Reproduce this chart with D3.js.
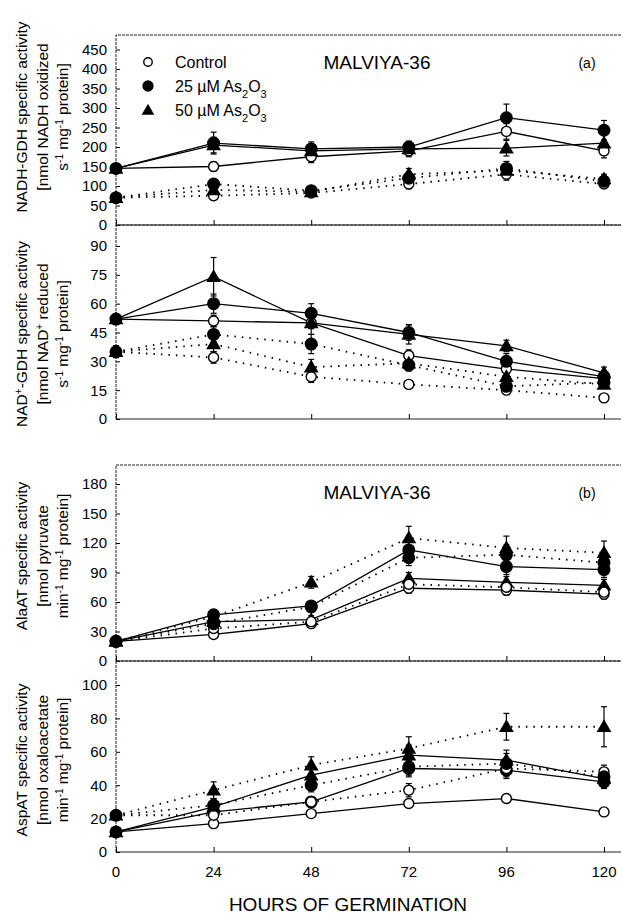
<!DOCTYPE html>
<html>
<head>
<meta charset="utf-8">
<script src="https://cdn.jsdelivr.net/npm/d3@7"></script>
<style>
  body { margin: 0; background: #fff; }
  svg { font-family: "Liberation Sans", Arial, sans-serif; }
</style>
</head>
<body>
<svg id="chart" width="623" height="914"></svg>
<script>
// hours of germination
const hours = [0, 24, 48, 72, 96, 120];

// NADH-GDH (panel a, top)
const nadhCtrlSolid = [145, 150, 175, 190, 240, 190];
const nadhAs25Solid = [145, 210, 195, 200, 275, 243];
const nadhAs50Solid = [145, 205, 190, 195, 197, 210];
const nadhCtrlDot = [70, 75, 82, 105, 130, 105];
const nadhAs25Dot = [70, 105, 88, 120, 145, 112];
const nadhAs50Dot = [70, 90, 85, 130, 140, 118];
const nadhErrSolid = [[10, 12, 15, 15, 20, 18], [10, 28, 18, 15, 35, 25], [10, 20, 15, 12, 20, 20]];
const nadhErrDot = [[8, 10, 8, 12, 15, 10], [8, 12, 10, 15, 18, 12], [8, 10, 8, 15, 15, 12]];

// NAD+-GDH (panel a, bottom)
const nadCtrlSolid = [52, 51, 50, 33, 26, 21];
const nadAs25Solid = [52, 60, 55, 45, 30, 22];
const nadAs50Solid = [52, 74, 50, 44, 38, 24];
const nadCtrlDot = [35, 32, 22, 18, 15, 11];
const nadAs25Dot = [35, 44, 39, 28, 17, 19];
const nadAs50Dot = [35, 39, 27, 29, 22, 18];
const nadErrSolid = [[2, 3, 3, 3, 3, 2], [2, 5, 5, 4, 4, 3], [2, 10, 6, 5, 3, 3]];
const nadErrDot = [[3, 3, 3, 2, 2, 2], [3, 4, 5, 3, 3, 2], [3, 4, 4, 3, 3, 2]];

// AlaAT (panel b, top)
const alaCtrlSolid = [20, 27, 38, 74, 72, 68];
const alaAs25Solid = [20, 47, 56, 113, 96, 93];
const alaAs50Solid = [20, 40, 42, 84, 80, 77];
const alaCtrlDot = [20, 33, 40, 78, 75, 70];
const alaAs25Dot = [20, 38, 55, 105, 108, 100];
const alaAs50Dot = [20, 45, 80, 125, 115, 110];
const alaErrSolid = [[3, 3, 3, 5, 5, 5], [3, 4, 4, 8, 8, 8], [3, 4, 4, 6, 6, 6]];
const alaErrDot = [[3, 3, 3, 5, 5, 5], [3, 4, 5, 8, 10, 10], [3, 4, 6, 12, 12, 12]];

// AspAT (panel b, bottom)
const aspCtrlSolid = [12, 17, 23, 29, 32, 24];
const aspAs25Solid = [12, 24, 30, 50, 49, 42];
const aspAs50Solid = [12, 27, 46, 58, 55, 44];
const aspCtrlDot = [22, 22, 30, 37, 50, 48];
const aspAs25Dot = [22, 28, 40, 51, 53, 45];
const aspAs50Dot = [22, 37, 52, 62, 75, 75];
const aspErrSolid = [[2, 2, 2, 2, 2, 2], [2, 3, 3, 5, 5, 4], [2, 4, 5, 6, 6, 4]];
const aspErrDot = [[2, 3, 3, 4, 5, 4], [2, 4, 4, 5, 6, 4], [2, 5, 5, 7, 8, 12]];

const treatments = ["Control", "25", "50"];
const markerOf = { Control: "open", "25": "filled", "50": "triangle" };

const yTicksNadh = [0, 50, 100, 150, 200, 250, 300, 350, 400, 450];
const yTicksNad = [0, 15, 30, 45, 60, 75, 90];
const yTicksAla = [0, 30, 60, 90, 120, 150, 180];
const yTicksAsp = [0, 20, 40, 60, 80, 100];

const LEFT = 116;
const RIGHT = 621;

const svg = d3.select("#chart");
const x = d3.scaleLinear().domain([0, 120]).range([LEFT, 604]);

function series(solid, dot, errSolid, errDot) {
  const out = [];
  [solid, dot].forEach((group, gi) => {
    group.forEach((vals, ti) => {
      out.push({
        treatment: treatments[ti],
        dotted: gi === 1,
        points: hours.map((h, i) => ({
          h,
          v: vals[i],
          e: (gi === 0 ? errSolid : errDot)[ti][i],
        })),
      });
    });
  });
  return out;
}

const panels = [
  {
    top: 35, zeroY: 225, topVal: 450, topValY: 49.5, ticks: yTicksNadh,
    labelY: 117,
    label: [
      [["NADH-GDH specific activity"]],
      [["[nmol NADH oxidized"]],
      [["s"], ["-1", "sup"], [" mg"], ["-1", "sup"], [" protein]"]],
    ],
    data: series([nadhCtrlSolid, nadhAs25Solid, nadhAs50Solid],
      [nadhCtrlDot, nadhAs25Dot, nadhAs50Dot], nadhErrSolid, nadhErrDot),
    title: "(a)", legend: true,
  },
  {
    top: 225, zeroY: 419, topVal: 90, topValY: 246, ticks: yTicksNad,
    labelY: 334,
    label: [
      [["NAD"], ["+", "sup"], ["-GDH specific activity"]],
      [["[nmol NAD"], ["+", "sup"], [" reduced"]],
      [["s"], ["-1", "sup"], [" mg"], ["-1", "sup"], [" protein]"]],
    ],
    data: series([nadCtrlSolid, nadAs25Solid, nadAs50Solid],
      [nadCtrlDot, nadAs25Dot, nadAs50Dot], nadErrSolid, nadErrDot),
  },
  {
    top: 465, zeroY: 661, topVal: 180, topValY: 484, ticks: yTicksAla,
    labelY: 556,
    label: [
      [["AlaAT specific activity"]],
      [["[nmol pyruvate"]],
      [["min"], ["-1", "sup"], [" mg"], ["-1", "sup"], [" protein]"]],
    ],
    data: series([alaCtrlSolid, alaAs25Solid, alaAs50Solid],
      [alaCtrlDot, alaAs25Dot, alaAs50Dot], alaErrSolid, alaErrDot),
    title: "(b)",
  },
  {
    top: 661, zeroY: 852, topVal: 100, topValY: 685, ticks: yTicksAsp,
    labelY: 760,
    label: [
      [["AspAT specific activity"]],
      [["[nmol oxaloacetate"]],
      [["min"], ["-1", "sup"], [" mg"], ["-1", "sup"], [" protein]"]],
    ],
    data: series([aspCtrlSolid, aspAs25Solid, aspAs50Solid],
      [aspCtrlDot, aspAs25Dot, aspAs50Dot], aspErrSolid, aspErrDot),
    xLabels: true,
  },
];

function drawMarker(g, kind, cx, cy, s) {
  if (kind === "triangle") {
    g.append("path")
      .attr("d", d3.symbol(d3.symbolTriangle, 95 * s * s)())
      .attr("transform", `translate(${cx},${cy + 1})`)
      .attr("fill", "#000");
  } else {
    g.append("circle")
      .attr("cx", cx).attr("cy", cy)
      .attr("r", (kind === "open" ? 5 : 5.8) * s)
      .attr("fill", kind === "open" ? "#fff" : "#000")
      .attr("stroke", "#000")
      .attr("stroke-width", 1.4);
  }
}

panels.forEach((p) => {
  const y = d3.scaleLinear().domain([0, p.topVal]).range([p.zeroY, p.topValY]);
  const g = svg.append("g");

  // frame
  g.append("path")
    .attr("d", `M${LEFT},${p.zeroY}V${p.top}H${RIGHT}`)
    .attr("fill", "none").attr("stroke", "#222").attr("stroke-width", 1)
    .attr("stroke-dasharray", "3,1");
  g.append("line")
    .attr("x1", LEFT).attr("x2", RIGHT).attr("y1", p.zeroY).attr("y2", p.zeroY)
    .attr("stroke", "#222").attr("stroke-width", 1);

  // y axis
  const yAxis = g.append("g")
    .attr("transform", `translate(${LEFT},0)`)
    .call(d3.axisRight(y).tickValues(p.ticks).tickSize(4).tickFormat(""));
  yAxis.select(".domain").remove();
  g.selectAll(".ytl")
    .data(p.ticks)
    .join("text")
    .attr("x", LEFT - 9).attr("y", (d) => y(d))
    .attr("dy", "0.36em").attr("text-anchor", "end")
    .attr("font-size", 15).text((d) => d);

  // x ticks (inward, upward)
  const xAxis = g.append("g")
    .attr("transform", `translate(0,${p.zeroY})`)
    .call(d3.axisTop(x).tickValues(hours).tickSize(5).tickFormat(""));
  xAxis.select(".domain").remove();
  if (p.xLabels) {
    g.selectAll(".xtl")
      .data(hours)
      .join("text")
      .attr("x", (d) => x(d)).attr("y", p.zeroY + 25)
      .attr("text-anchor", "middle").attr("font-size", 15).text((d) => d);
  }

  // y label
  const lbl = g.append("g").attr("transform", `translate(0,${p.labelY})`);
  [22, 43, 63].forEach((lx, li) => {
    const t = lbl.append("text")
      .attr("transform", `translate(${lx},0) rotate(-90)`)
      .attr("text-anchor", "middle").attr("dy", "0.35em")
      .attr("font-size", 15.5);
    p.label[li].forEach(([s, kind]) => {
      const ts = t.append("tspan").text(s);
      if (kind === "sup") ts.attr("font-size", 10).attr("baseline-shift", "super");
    });
  });

  const line = d3.line().x((d) => x(d.h)).y((d) => y(d.v));

  // lines
  g.selectAll(".series")
    .data(p.data)
    .join("path")
    .attr("d", (d) => line(d.points))
    .attr("fill", "none").attr("stroke", "#000")
    .attr("stroke-width", (d) => (d.dotted ? 1.8 : 1.3))
    .attr("stroke-dasharray", (d) => (d.dotted ? "1.5,6" : null));

  // error bars
  p.data.forEach((s) => {
    s.points.forEach((pt) => {
      const cx = x(pt.h);
      g.append("line")
        .attr("x1", cx).attr("x2", cx)
        .attr("y1", y(pt.v - pt.e)).attr("y2", y(pt.v + pt.e))
        .attr("stroke", "#000").attr("stroke-width", 1.2);
      [pt.v - pt.e, pt.v + pt.e].forEach((v) => {
        g.append("line")
          .attr("x1", cx - 3).attr("x2", cx + 3)
          .attr("y1", y(v)).attr("y2", y(v))
          .attr("stroke", "#000").attr("stroke-width", 1.2);
      });
    });
  });

  // markers
  p.data.forEach((s) => {
    s.points.forEach((pt) => drawMarker(g, markerOf[s.treatment], x(pt.h), y(pt.v), 1));
  });

  if (p.title) {
    g.append("text")
      .attr("x", 377).attr("y", p.top + 34)
      .attr("text-anchor", "middle").attr("font-size", 19)
      .text("MALVIYA-36");
    g.append("text")
      .attr("x", 587).attr("y", p.top + 33)
      .attr("text-anchor", "middle").attr("font-size", 14)
      .text(p.title);
  }

  if (p.legend) {
    const items = [
      { kind: "open", parts: [["Control"]] },
      { kind: "filled", parts: [["25 \u00b5M As"], ["2", "sub"], ["O"], ["3", "sub"]] },
      { kind: "triangle", parts: [["50 \u00b5M As"], ["2", "sub"], ["O"], ["3", "sub"]] },
    ];
    items.forEach((it, i) => {
      const ly = 62 + i * 24;
      drawMarker(g, it.kind, 148, ly, 0.85);
      const t = g.append("text")
        .attr("x", 175).attr("y", ly).attr("dy", "0.35em").attr("font-size", 16);
      it.parts.forEach(([s, kind]) => {
        const ts = t.append("tspan").text(s);
        if (kind === "sub") ts.attr("font-size", 11).attr("baseline-shift", "sub");
      });
    });
  }
});

svg.append("text")
  .attr("x", 348).attr("y", 911)
  .attr("text-anchor", "middle").attr("font-size", 19)
  .text("HOURS OF GERMINATION");
</script>
</body>
</html>
